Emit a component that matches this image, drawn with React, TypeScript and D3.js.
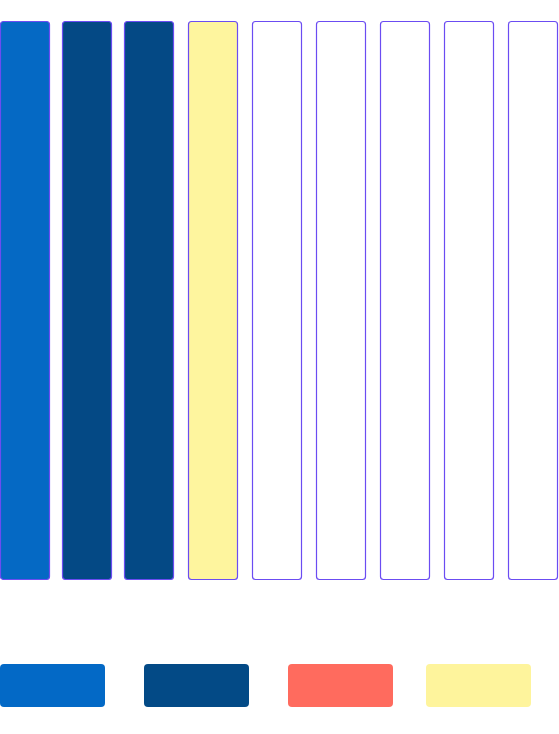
import React from "react";
import * as d3 from "d3";

const categories = ["A", "B", "C", "D", "E", "F", "G", "H", "I"];
const values = [100, 100, 100, 100, 100, 100, 100, 100, 100];
const barColors = ["#0569c4", "#044985", "#044985", "#fef59e", "#ffffff", "#ffffff", "#ffffff", "#ffffff", "#ffffff"];
const legendItems = ["s1", "s2", "s3", "s4"];
const legendColors = ["#0369c6", "#034a86", "#ff6b5e", "#fef49c"];

export default function App() {
  const W = 559;
  const H = 734;
  const xi = d3.scaleLinear().domain([0, 2, 8]).range([0.5, 124.5, 508.5]);
  const y = d3.scaleLinear().domain([0, 100]).range([579.5, 21.5]);
  const bw = 49;
  const lx = d3.scaleLinear().domain([0, 2, 3]).range([0, 288, 426]);
  return (
    <svg width={W} height={H} style={{ position: "absolute", left: 0, top: 0 }}>
      {categories.map((c, i) => (
        <rect
          key={c}
          x={xi(i)}
          y={y(values[i])}
          width={bw}
          height={y(0) - y(values[i])}
          rx={3}
          fill={barColors[i]}
          stroke="#6b4cf2"
          strokeWidth={1.2}
        />
      ))}
      {legendItems.map((l, i) => (
        <rect key={l} x={lx(i)} y={664} width={105} height={43} rx={4} fill={legendColors[i]} />
      ))}
    </svg>
  );
}
